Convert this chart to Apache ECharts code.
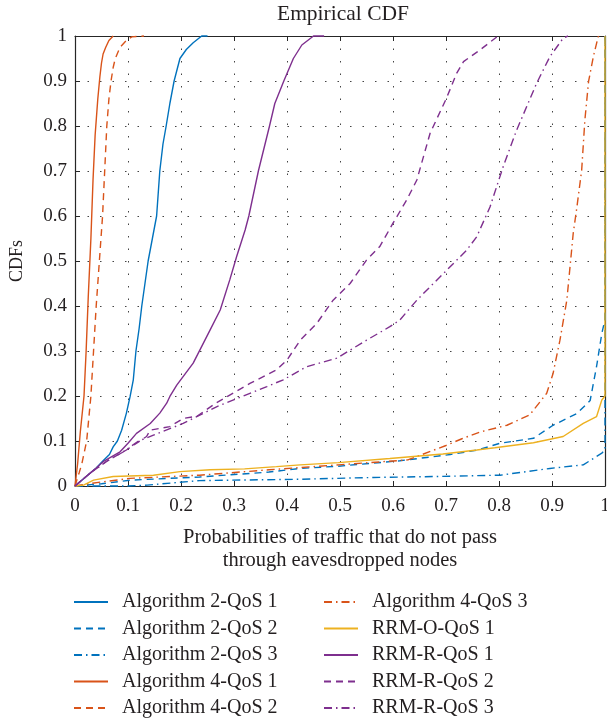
<!DOCTYPE html>
<html>
<head>
<meta charset="utf-8">
<script src="https://cdn.jsdelivr.net/npm/echarts@6/dist/echarts.min.js"></script>
<style>
html,body{margin:0;padding:0;background:#fff;}
#chart{width:607px;height:722px;}
</style>
</head>
<body>
<div id="chart"></div>
<script>
// ---- Data ----
var xTicks = [0, 0.1, 0.2, 0.3, 0.4, 0.5, 0.6, 0.7, 0.8, 0.9, 1];
var yTicks = [0, 0.1, 0.2, 0.3, 0.4, 0.5, 0.6, 0.7, 0.8, 0.9, 1];

var seriesNames = [
  'Algorithm 2-QoS 1', 'Algorithm 2-QoS 2', 'Algorithm 2-QoS 3',
  'Algorithm 4-QoS 1', 'Algorithm 4-QoS 2', 'Algorithm 4-QoS 3',
  'RRM-O-QoS 1', 'RRM-R-QoS 1', 'RRM-R-QoS 2', 'RRM-R-QoS 3'
];

var alg2Qos1 = [[0,0],[0.02,0.02],[0.04,0.04],[0.053,0.056],[0.065,0.07],[0.072,0.087],[0.08,0.1],[0.088,0.124],[0.097,0.162],[0.104,0.199],[0.11,0.236],[0.115,0.3],[0.121,0.35],[0.126,0.4],[0.132,0.45],[0.138,0.5],[0.146,0.55],[0.154,0.6],[0.16,0.7],[0.166,0.76],[0.172,0.8],[0.179,0.85],[0.187,0.9],[0.198,0.95],[0.21,0.97],[0.223,0.985],[0.239,1],[0.25,1]];
var alg2Qos2 = [[0,0],[0.05,0.005],[0.104,0.013],[0.235,0.02],[0.366,0.031],[0.425,0.039],[0.497,0.044],[0.613,0.056],[0.708,0.07],[0.76,0.08],[0.802,0.095],[0.865,0.106],[0.902,0.135],[0.947,0.161],[0.972,0.19],[0.984,0.265],[0.994,0.339],[1,0.37],[1,1]];
var alg2Qos3 = [[0,0],[0.1,0],[0.136,0.002],[0.235,0.012],[0.425,0.015],[0.563,0.019],[0.676,0.021],[0.802,0.024],[0.896,0.039],[0.959,0.047],[0.994,0.073],[1,0.08],[1,1]];
var alg4Qos1 = [[0,0],[0.005,0.05],[0.01,0.12],[0.017,0.2],[0.021,0.3],[0.025,0.42],[0.03,0.55],[0.034,0.68],[0.038,0.78],[0.043,0.86],[0.047,0.91],[0.05,0.94],[0.053,0.96],[0.058,0.975],[0.064,0.99],[0.072,1]];
var alg4Qos2 = [[0,0],[0.008,0.03],[0.013,0.05],[0.022,0.1],[0.03,0.2],[0.035,0.3],[0.04,0.4],[0.046,0.5],[0.052,0.6],[0.056,0.7],[0.06,0.8],[0.064,0.86],[0.068,0.9],[0.072,0.93],[0.076,0.95],[0.085,0.975],[0.097,0.99],[0.107,0.998],[0.13,1]];
var alg4Qos3 = [[0,0],[0.031,0.006],[0.104,0.017],[0.235,0.024],[0.366,0.036],[0.497,0.047],[0.628,0.058],[0.7,0.09],[0.73,0.105],[0.764,0.12],[0.815,0.135],[0.858,0.158],[0.89,0.206],[0.902,0.25],[0.915,0.324],[0.928,0.413],[0.934,0.487],[0.94,0.561],[0.947,0.62],[0.956,0.702],[0.962,0.813],[0.969,0.899],[0.978,0.954],[0.987,0.998],[0.99,1]];
var rrmOQos1 = [[0,0],[0.016,0.002],[0.035,0.013],[0.072,0.021],[0.148,0.024],[0.198,0.032],[0.255,0.036],[0.32,0.038],[0.38,0.043],[0.425,0.047],[0.497,0.052],[0.594,0.061],[0.694,0.071],[0.758,0.08],[0.792,0.085],[0.865,0.096],[0.921,0.11],[0.959,0.139],[0.984,0.154],[0.994,0.191],[1,0.2],[1,1]];
var rrmRQos1 = [[0,0],[0.02,0.02],[0.04,0.04],[0.053,0.054],[0.085,0.076],[0.1,0.095],[0.116,0.117],[0.142,0.139],[0.16,0.162],[0.173,0.184],[0.179,0.199],[0.192,0.224],[0.223,0.273],[0.255,0.347],[0.274,0.391],[0.292,0.458],[0.305,0.51],[0.321,0.569],[0.328,0.6],[0.346,0.7],[0.367,0.8],[0.377,0.85],[0.394,0.9],[0.412,0.95],[0.428,0.98],[0.45,1],[0.47,1]];
var rrmRQos2 = [[0,0],[0.03,0.03],[0.06,0.055],[0.097,0.08],[0.135,0.11],[0.142,0.124],[0.179,0.132],[0.204,0.15],[0.23,0.155],[0.267,0.185],[0.33,0.228],[0.38,0.258],[0.4,0.28],[0.425,0.324],[0.456,0.361],[0.487,0.413],[0.519,0.45],[0.55,0.502],[0.575,0.532],[0.6,0.584],[0.626,0.636],[0.645,0.68],[0.67,0.784],[0.701,0.862],[0.72,0.917],[0.733,0.943],[0.764,0.969],[0.796,0.998],[0.8,1]];
var rrmRQos3 = [[0,0],[0.03,0.03],[0.06,0.055],[0.09,0.075],[0.12,0.1],[0.148,0.113],[0.204,0.139],[0.267,0.176],[0.33,0.206],[0.362,0.221],[0.393,0.236],[0.437,0.265],[0.494,0.284],[0.55,0.324],[0.594,0.354],[0.613,0.369],[0.645,0.413],[0.689,0.465],[0.739,0.524],[0.758,0.554],[0.783,0.62],[0.808,0.71],[0.833,0.79],[0.871,0.895],[0.896,0.954],[0.921,0.995],[0.93,1]];

var seriesData = [alg2Qos1, alg2Qos2, alg2Qos3, alg4Qos1, alg4Qos2, alg4Qos3, rrmOQos1, rrmRQos1, rrmRQos2, rrmRQos3];

// ---- Styles ----
var BLUE = '#0072BD', RED = '#D95319', YEL = '#EDB120', PUR = '#7E2F8E';
var colors = [BLUE, BLUE, BLUE, RED, RED, RED, YEL, PUR, PUR, PUR];
var DASH = [7, 5], DASHDOT = [8, 4, 1.5, 4];
var dashes = ['solid', DASH, DASHDOT, 'solid', DASH, DASHDOT, 'solid', 'solid', DASH, DASHDOT];

var FONT = 'Liberation Serif';
var TXT = '#231f20';
var AX = '#262626';

var series = seriesNames.map(function (n, i) {
  return {
    name: n, type: 'line', data: seriesData[i],
    showSymbol: false, symbol: 'none', smooth: false, animation: false,
    lineStyle: { color: colors[i], width: 1.4, type: dashes[i] },
    itemStyle: { color: colors[i] },
    clip: false
  };
});

var legendText = { fontFamily: FONT, fontSize: 20, color: TXT, padding: [0, 0, 0, 9], lineHeight: 20 };
function makeLegend(left, names) {
  return {
    orient: 'vertical', left: left, top: 592, padding: 0,
    itemWidth: 34, itemHeight: 20, itemGap: 6.5,
    itemStyle: { opacity: 0, borderWidth: 0 },
    data: names, textStyle: legendText, selectedMode: false
  };
}

var chart = echarts.init(document.getElementById('chart'), null, { renderer: 'canvas' });
chart.setOption({
  backgroundColor: '#fff',
  animation: false,
  title: {
    text: 'Empirical CDF', left: 277, top: 3, padding: 0,
    textStyle: { fontFamily: FONT, fontSize: 21.5, fontWeight: 'normal', color: TXT }
  },
  grid: { left: 75, right: 2, top: 36, bottom: 236, containLabel: false, outerBoundsMode: 'none' },
  legend: [makeLegend(73, seriesNames.slice(0, 5)), makeLegend(323, seriesNames.slice(5))],
  xAxis: [
    {
      type: 'value', min: 0, max: 1, interval: 0.1, position: 'bottom',
      name: 'Probabilities of traffic that do not pass\nthrough eavesdropped nodes',
      nameLocation: 'middle', nameGap: 40,
      nameTextStyle: { fontFamily: FONT, fontSize: 20.5, color: TXT, lineHeight: 23 },
      axisLine: { show: true, onZero: false, lineStyle: { color: AX, width: 1.2 } },
      axisTick: { show: true, inside: true, length: 5, lineStyle: { color: AX } },
      axisLabel: { fontFamily: FONT, fontSize: 19, color: TXT, margin: 11,
        formatter: function (v) { return xTicks.indexOf(Math.round(v * 10) / 10) >= 0 ? String(Math.round(v * 10) / 10) : ''; } },
      splitLine: { show: true, lineStyle: { color: '#444', width: 1, type: [1.5, 11] } }
    },
    {
      type: 'value', min: 0, max: 1, interval: 0.1, position: 'top',
      axisLine: { show: true, onZero: false, lineStyle: { color: AX, width: 1.2 } },
      axisTick: { show: true, inside: true, length: 5, lineStyle: { color: AX } },
      axisLabel: { show: false }, splitLine: { show: false }
    }
  ],
  yAxis: [
    {
      type: 'value', min: 0, max: 1, interval: 0.1, position: 'left',
      name: 'CDFs', nameLocation: 'middle', nameGap: 49, nameRotate: 90,
      nameTextStyle: { fontFamily: FONT, fontSize: 18, color: TXT },
      axisLine: { show: true, onZero: false, lineStyle: { color: AX, width: 1.2 } },
      axisTick: { show: true, inside: true, length: 5, lineStyle: { color: AX } },
      axisLabel: { fontFamily: FONT, fontSize: 19, color: TXT, margin: 8,
        formatter: function (v) { return yTicks.indexOf(Math.round(v * 10) / 10) >= 0 ? String(Math.round(v * 10) / 10) : ''; } },
      splitLine: { show: true, lineStyle: { color: '#444', width: 1, type: [1.5, 11] } }
    },
    {
      type: 'value', min: 0, max: 1, interval: 0.1, position: 'right',
      axisLine: { show: true, onZero: false, lineStyle: { color: AX, width: 1.2 } },
      axisTick: { show: true, inside: true, length: 5, lineStyle: { color: AX } },
      axisLabel: { show: false }, splitLine: { show: false }
    }
  ],
  series: series
});
</script>
</body>
</html>
